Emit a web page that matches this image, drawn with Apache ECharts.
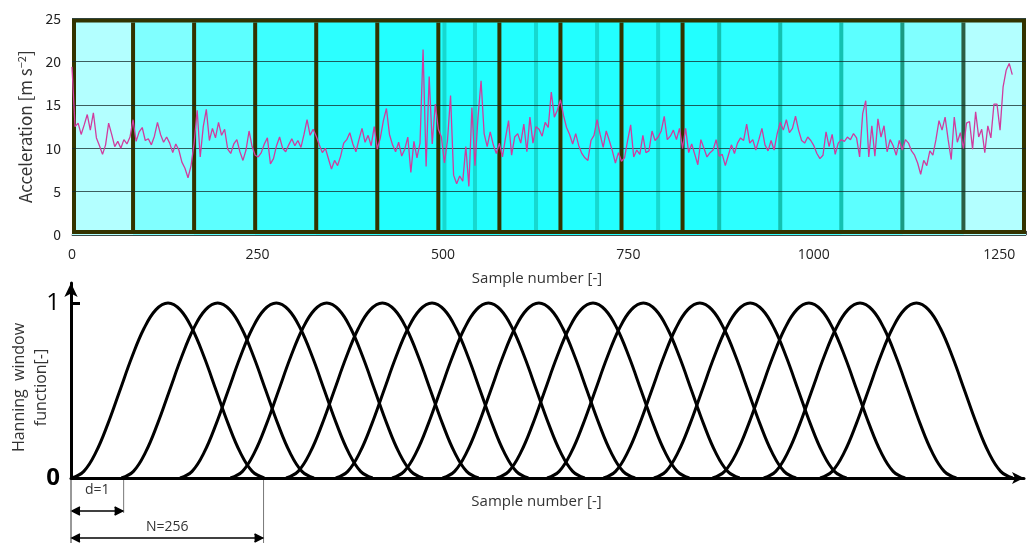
<!DOCTYPE html>
<html lang="en">
<head>
<meta charset="UTF-8" />
<title>Acceleration and Hanning windows</title>
<script src="https://cdn.jsdelivr.net/npm/echarts@6/dist/echarts.min.js"></script>
<style>
    html, body { margin:0; padding:0; background:#fff; }
    #chart { width:1030px; height:543px; }
</style>
</head>
<body>
<div id="chart"></div>
<script>
// acceleration, one value every sampleStep samples
var sampleStep = 4;
var accel = [
    19.4, 12.5, 12.9, 11.6, 12.7, 13.9, 12.1, 14.1, 11.2, 10.3,
    9.3, 10.4, 12.9, 11.6, 10.2, 10.8, 10.0, 11.0, 10.5, 11.3,
    13.3, 10.8, 11.9, 12.4, 10.9, 11.1, 10.4, 11.4, 13.0, 11.6,
    10.7, 11.3, 10.6, 9.5, 10.5, 9.8, 8.4, 7.7, 6.6, 8.0,
    10.6, 14.4, 9.0, 12.5, 14.5, 10.9, 12.3, 11.2, 13.0, 11.5,
    12.2, 9.9,
    9.4, 10.5, 11.0, 9.6, 8.6, 9.8, 12.0, 10.2,
    9.2, 9.0, 9.5, 10.5, 11.2, 8.2, 8.8, 10.3, 11.3, 10.0,
    9.6, 10.4, 11.1, 10.3, 10.9, 10.1, 11.6, 13.3, 11.5, 12.2,
    11.4, 10.4, 9.5, 10.0, 8.8, 7.6, 8.6, 8.0, 9.1, 10.6,
    11.0, 11.8, 10.5, 9.6, 11.0, 12.3, 10.7, 11.5, 10.3, 12.5,
    9.9, 11.2, 13.2,
    14.6, 11.6, 10.4, 9.6, 10.7, 9.1, 9.9,
    11.3, 7.2, 10.8, 8.9, 10.6, 21.4, 7.9, 18.3, 10.5, 15.1,
    12.2, 11.3, 8.3, 10.9, 16.1, 6.9, 5.9, 6.8, 6.2, 10.2,
    5.6, 14.7, 8.0, 13.6, 17.8, 11.7, 10.2, 11.9, 10.4, 9.4,
    10.6, 9.0, 11.2, 13.2, 9.2, 11.3, 11.7, 10.6, 12.8, 9.6,
    13.6, 10.6, 12.5,
    12.2, 11.4, 13.0, 12.4, 16.5, 13.6, 14.4,
    15.6, 13.8, 12.4, 11.6, 10.5, 11.7, 10.3, 9.4, 8.9, 8.6,
    10.9, 11.5, 13.3, 11.6, 10.1, 12.0, 10.9, 9.7, 8.3, 9.5,
    8.5, 8.9, 10.9, 12.7, 9.0, 9.8, 9.3, 11.5, 9.5, 9.7,
    12.0, 10.9, 11.3, 12.0, 13.7, 11.0, 11.4, 12.1, 11.0, 12.3,
    10.0, 12.3, 9.5, 10.5,
    9.3, 8.1, 11.0, 10.0, 9.0, 9.5,
    9.8, 11.0, 9.1, 9.3, 8.0, 9.2, 10.4, 9.4, 10.6, 11.2,
    10.9, 12.8, 10.6, 11.0, 9.8, 11.0, 12.3, 10.4, 9.7, 10.9,
    9.8, 11.7, 13.0, 12.1, 13.3, 11.8, 12.3, 13.7, 12.1, 10.9,
    10.6, 11.3, 10.9, 10.3, 9.4, 8.8, 9.2, 11.9, 10.2, 11.6,
    9.3, 10.6, 11.0, 10.8, 11.3,
    11.0, 11.7, 11.2, 9.0, 14.0,
    15.5, 9.0, 12.6, 9.1, 13.4, 11.3, 12.6, 9.6, 11.0, 10.3,
    9.2, 10.9, 9.8, 11.0, 10.6, 9.7, 9.2, 8.3, 7.0, 8.6,
    8.0, 9.7, 9.2, 11.0, 13.2, 12.1, 13.6, 11.0, 8.7, 13.6,
    10.7, 11.8, 10.0, 12.9, 13.1, 9.9, 14.2, 11.3, 12.2, 9.5,
    12.6, 11.2, 15.1, 15.1, 12.1, 17.1, 19.0, 19.8, 18.5
];
var xTicks = [0, 250, 500, 750, 1000, 1250];

// segments between window edges and how many windows overlap in each
var segEdges = [0, 80, 160, 240, 320, 400, 480, 560, 640, 720, 800, 848, 928, 1008, 1088, 1168, 1250];
var overlap = [1, 2, 3, 4, 5, 6, 6, 6, 6, 6, 6, 5, 4, 3, 2, 1];
// window edge lines (sample number) and kind of line
var edgePos  = [80, 160, 240, 320, 400, 480, 560, 640, 720, 800, 488, 528, 608, 688, 768, 848, 928, 1008, 1088, 1168];
var edgeKind = [0, 0, 0, 0, 0, 0, 0, 0, 0, 0, 1, 1, 1, 1, 1, 2, 2, 2, 3, 4];

// hanning windows
var winLen = 256;
var winStarts = [1, 67, 145, 212, 286, 352, 427, 494, 566, 633, 708, 775, 853, 921, 996];
var hannShape = [0, 0.038, 0.146, 0.309, 0.5, 0.691, 0.854, 0.962, 1, 0.962, 0.854, 0.691, 0.5, 0.309, 0.146, 0.038, 0];
var spans = [[0, 70, 'd=1'], [0, 256, 'N=256']];

var fills = ['#b3ffff', '#80ffff', '#5cffff', '#3dffff', '#2cffff', '#22ffff'];
var edgeStyle = [
    {color:'#333300', width:4},
    {color:'#17d8cf', width:4},
    {color:'#14c1b0', width:4},
    {color:'#1a9a82', width:4},
    {color:'#2b5e44', width:4}
];

var chart = echarts.init(document.getElementById('chart'));

var accelData = accel.map(function(v, i){ return [i * sampleStep, v]; });

var hannSeries = winStarts.map(function(s){
    return {
        type:'line', xAxisIndex:2, yAxisIndex:1, silent:true,
        symbol:'none', smooth:0.4,
        lineStyle:{color:'#000', width:3},
        data: hannShape.map(function(h, k){ return [s + k * winLen / (hannShape.length - 1), h]; })
    };
});

var option = {
    animation:false,
    backgroundColor:'#fff',
    grid:[
        {left:72, top:18.4, width:954, height:216.5, outerBoundsMode:'none'},
        {left:71, top:283, width:953, height:195, outerBoundsMode:'none'}
    ],
    xAxis:[
        {
            type:'value', gridIndex:0, min:0, max:1250, interval:250,
            axisLine:{lineStyle:{color:'#9a9a9a', width:1.5}},
            axisTick:{inside:true, length:4, lineStyle:{color:'#444'}},
            axisLabel:{show:false},
            splitLine:{show:false},
            name:'Sample number [-]', nameLocation:'middle', nameGap:36, nameMoveOverlap:false,
            nameTextStyle:{fontFamily:'Open Sans', fontSize:15, color:'#333', padding:[0, 24, 0, 0]}
        },
        {
            // labels only
            type:'value', gridIndex:0, min:0, max:1286, interval:250, position:'bottom',
            axisLine:{show:false}, axisTick:{show:false}, splitLine:{show:false},
            axisLabel:{customValues:xTicks, margin:13, fontFamily:'Open Sans', fontSize:14, color:'#222',
                formatter:function(v){ return String(v); }}
        },
        {
            type:'value', gridIndex:1, min:0, max:1267,
            axisLine:{lineStyle:{color:'#000', width:3}, symbol:['none', 'arrow'], symbolSize:[9, 12]},
            axisTick:{show:false}, axisLabel:{show:false}, splitLine:{show:false},
            name:'Sample number [-]', nameLocation:'middle', nameGap:16, nameMoveOverlap:false,
            nameTextStyle:{fontFamily:'Open Sans', fontSize:15, color:'#333', padding:[0, 22, 0, 0]}
        }
    ],
    yAxis:[
        {
            type:'value', gridIndex:0, min:0, max:25, interval:5, z:3,
            axisLine:{show:false}, axisTick:{show:false},
            axisLabel:{margin:11, fontFamily:'Noto Sans CJK JP', fontSize:14, color:'#222'},
            splitLine:{lineStyle:{color:'rgba(20,40,40,0.75)', width:1}},
            name:'Acceleration [m s{sup|\u22122}]', nameLocation:'middle', nameGap:36, nameMoveOverlap:false,
            nameTextStyle:{
                fontFamily:'Noto Sans CJK JP', fontSize:17, color:'#333',
                rich:{sup:{fontFamily:'Noto Sans CJK JP', fontSize:11, color:'#333', verticalAlign:'top', padding:[0, 0, 9, 0]}}
            }
        },
        {
            type:'value', gridIndex:1, min:0, max:1.114,
            axisLine:{lineStyle:{color:'#000', width:3}, symbol:['none', 'arrow'], symbolSize:[10, 14]},
            axisTick:{show:true, inside:true, length:9, lineStyle:{color:'#000', width:3}, customValues:[1]},
            axisLabel:{
                customValues:[0, 1], margin:11,
                formatter:function(v){ return v === 0 ? '{z|0}' : '{o|1}'; },
                rich:{
                    z:{fontFamily:'Open Sans', fontSize:24, fontWeight:'bold', color:'#000'},
                    o:{fontFamily:'Open Sans', fontSize:24, color:'#000'}
                }
            },
            splitLine:{show:false},
            name:'Hanning  window\nfunction[-]', nameLocation:'middle', nameGap:19, nameMoveOverlap:false,
            nameTextStyle:{fontFamily:'Open Sans', fontSize:16, lineHeight:22, color:'#333', padding:[0, 14, 0, 0]}
        }
    ],
    series:[
        {
            // coloured window segments
            type:'custom', xAxisIndex:0, yAxisIndex:0, z:1, silent:true,
            encode:{x:[0, 1], y:2},
            data: overlap.map(function(c, i){ return [segEdges[i], segEdges[i + 1], c]; }),
            renderItem:function(params, api){
                var a = api.coord([api.value(0), 25]);
                var b = api.coord([api.value(1), 0]);
                return {
                    type:'rect',
                    shape:{x:a[0], y:a[1], width:b[0] - a[0], height:b[1] - a[1]},
                    style:{fill:fills[api.value(2) - 1]}
                };
            }
        },
        {
            // window edges
            type:'custom', xAxisIndex:0, yAxisIndex:0, z:2, silent:true,
            encode:{x:0, y:1},
            data: edgePos.map(function(p, i){ return [p, edgeKind[i]]; }),
            renderItem:function(params, api){
                var a = api.coord([api.value(0), 25]);
                var b = api.coord([api.value(0), 0]);
                var st = edgeStyle[api.value(1)];
                return {
                    type:'line',
                    shape:{x1:a[0], y1:a[1] + 4, x2:b[0], y2:b[1] - 4},
                    style:{stroke:st.color, lineWidth:st.width}
                };
            }
        },
        {
            // frame
            type:'custom', xAxisIndex:0, yAxisIndex:0, z:2, silent:true,
            encode:{x:[0, 1]},
            data:[[0, 1250]],
            renderItem:function(params, api){
                var a = api.coord([api.value(0), 25]);
                var b = api.coord([api.value(1), 0]);
                return {
                    type:'rect',
                    shape:{x:a[0] + 2, y:a[1] + 2, width:b[0] - a[0] - 4, height:b[1] - a[1] - 5},
                    style:{fill:null, stroke:'#333300', lineWidth:4}
                };
            }
        },
        {
            name:'Acceleration', type:'line', xAxisIndex:0, yAxisIndex:0, z:4,
            symbol:'none', silent:true,
            lineStyle:{color:'#d03c9e', width:1.3},
            data:accelData
        },
        {
            // d and N spans below the lower axis
            type:'custom', xAxisIndex:2, yAxisIndex:1, z:5, silent:true, clip:false,
            encode:{x:[0, 1]},
            data: spans.map(function(s){ return [s[0], s[1]]; }),
            renderItem:function(params, api){
                var i = params.dataIndex;
                var arrowOff = [33, 60][i], textOff = [12, 49][i], guideOff = [35, 70][i];
                var p0 = api.coord([api.value(0), 0]);
                var p1 = api.coord([api.value(1), 0]);
                var y = p0[1] + arrowOff;
                var x0 = p0[0] + 1, x1 = p1[0] - 1;
                var ln = {stroke:'#000', lineWidth:1.5};
                return {
                    type:'group',
                    children:[
                        {type:'line', shape:{x1:p0[0], y1:p0[1] + 2, x2:p0[0], y2:p0[1] + 70}, style:{stroke:'#777', lineWidth:1}},
                        {type:'line', shape:{x1:p1[0], y1:p1[1] + 2, x2:p1[0], y2:p1[1] + guideOff}, style:{stroke:'#777', lineWidth:1}},
                        {type:'line', shape:{x1:x0, y1:y, x2:x1, y2:y}, style:ln},
                        {type:'polyline', shape:{points:[[x0 + 8, y - 4], [x0, y], [x0 + 8, y + 4]]}, style:ln},
                        {type:'polyline', shape:{points:[[x1 - 8, y - 4], [x1, y], [x1 - 8, y + 4]]}, style:ln},
                        {type:'text', x:(p0[0] + p1[0]) / 2, y:p0[1] + textOff,
                         style:{text:spans[i][2], fontFamily:'Open Sans', fontSize:14, fill:'#333', align:'center', verticalAlign:'middle'}}
                    ]
                };
            }
        }
    ].concat(hannSeries)
};

chart.setOption(option);
</script>
</body>
</html>
